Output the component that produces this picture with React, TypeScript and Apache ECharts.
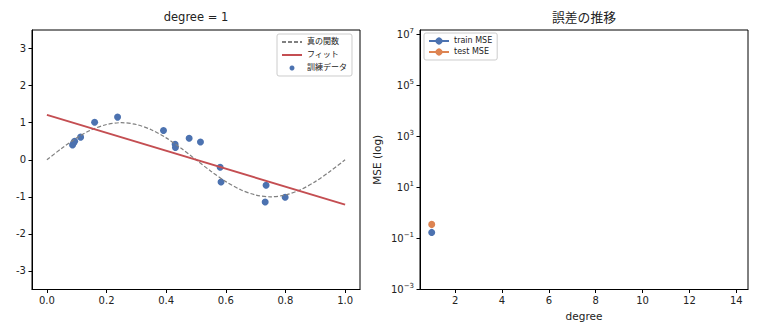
import React, { useEffect, useRef } from "react";
import * as echarts from "echarts";

const FONT = "'DejaVu Sans', 'Noto Sans CJK JP', sans-serif";

// Left panel data
const curveX = [0, 0.05, 0.1, 0.15, 0.2, 0.25, 0.3, 0.35, 0.4, 0.45, 0.5, 0.55, 0.6, 0.65, 0.7, 0.75, 0.8, 0.85, 0.9, 0.95, 1.0];
const curveY = [0, 0.31, 0.59, 0.81, 0.95, 1.0, 0.95, 0.81, 0.59, 0.31, 0, -0.31, -0.59, -0.81, -0.95, -1.0, -0.95, -0.81, -0.59, -0.31, 0];
const fitX = [0, 1];
const fitY = [1.21, -1.21];
const trainX = [0.086, 0.09, 0.093, 0.113, 0.16, 0.237, 0.391, 0.43, 0.431, 0.477, 0.515, 0.581, 0.584, 0.735, 0.732, 0.799];
const trainY = [0.4, 0.46, 0.5, 0.61, 1.01, 1.15, 0.79, 0.42, 0.33, 0.58, 0.48, -0.2, -0.6, -0.69, -1.14, -1.01];
const leftXTicks = [0, 0.2, 0.4, 0.6, 0.8, 1.0];
const leftYTicks = [-3, -2, -1, 0, 1, 2, 3];

// Right panel data
const degrees = [1];
const trainMSE = [0.172];
const testMSE = [0.354];
const rightXTicks = [2, 4, 6, 8, 10, 12, 14];

const titles = ["degree = 1", "誤差の推移"];

const BLUE = "#4C72B0";
const ORANGE = "#DD8452";
const RED = "#C44E52";
const GRAY = "#808080";
const TXT = "#222";

export default function App() {
  const ref = useRef<HTMLDivElement>(null);
  useEffect(() => {
    const chart = echarts.init(ref.current!, null, { renderer: "svg" });
    const axisCommon = {
      axisLine: { show: true, onZero: false, lineStyle: { color: "#000", width: 1 } },
      axisTick: { show: true, inside: false, length: 3.5, lineStyle: { color: "#000" } },
      splitLine: { show: false },
    };
    const legendCommon = {
      orient: "vertical",
      itemWidth: 20,
      itemHeight: 5,
      padding: [4, 5, 4, 4],
      backgroundColor: "#fff",
      borderColor: "#ccc",
      borderWidth: 1,
      borderRadius: 2,
      textStyle: { fontSize: 8, color: TXT, fontFamily: FONT },
    };
    const option: any = {
      animation: false,
      textStyle: { fontFamily: FONT },
      graphic: [
        {
          type: "text",
          x: 196,
          y: 17,
          style: { text: titles[0], fill: TXT, font: `11.5px ${FONT}`, align: "center", verticalAlign: "middle" },
        },
        {
          type: "text",
          x: 584,
          y: 17,
          style: { text: titles[1], fill: TXT, font: `12.8px ${FONT}`, align: "center", verticalAlign: "middle" },
        },
      ],
      grid: [
        { left: 32, top: 30, width: 328, height: 259.5, show: true, borderColor: "#000", borderWidth: 1, backgroundColor: "transparent" },
        { left: 420, top: 30, width: 328, height: 259.5, show: true, borderColor: "#000", borderWidth: 1, backgroundColor: "transparent" },
      ],
      legend: [
        {
          ...legendCommon,
          left: 277,
          top: 34,
          itemGap: 5,
          data: [
            { name: "真の関数", itemStyle: { opacity: 0 } },
            { name: "フィット", itemStyle: { opacity: 0 } },
            { name: "訓練データ", icon: "circle" },
          ],
        },
        {
          ...legendCommon,
          left: 424,
          top: 33,
          itemHeight: 9,
          itemGap: 3,
          data: [{ name: "train MSE" }, { name: "test MSE" }],
        },
      ],
      xAxis: [
        {
          type: "value",
          gridIndex: 0,
          min: -0.05,
          max: 1.05,
          ...axisCommon,
          axisTick: { ...axisCommon.axisTick, customValues: leftXTicks },
          axisLabel: { customValues: leftXTicks, color: TXT, fontSize: 10, margin: 6, formatter: (v: number) => v.toFixed(1) },
        },
        {
          type: "value",
          gridIndex: 1,
          min: 0.5,
          max: 14.5,
          name: "degree",
          nameLocation: "middle",
          nameGap: 21,
          nameTextStyle: { fontSize: 10.5, color: TXT },
          ...axisCommon,
          axisTick: { ...axisCommon.axisTick, customValues: rightXTicks },
          axisLabel: { customValues: rightXTicks, color: TXT, fontSize: 10, margin: 6 },
        },
      ],
      yAxis: [
        {
          type: "value",
          gridIndex: 0,
          min: -3.5,
          max: 3.5,
          ...axisCommon,
          axisTick: { ...axisCommon.axisTick, customValues: leftYTicks },
          axisLabel: { customValues: leftYTicks, color: TXT, fontSize: 10, margin: 6, formatter: (v: number) => String(v) },
        },
        {
          type: "log",
          logBase: 10,
          gridIndex: 1,
          min: 0.001,
          max: 1.45e7,
          interval: 2,
          name: "MSE (log)",
          nameLocation: "middle",
          nameGap: 38,
          nameRotate: 90,
          nameTextStyle: { fontSize: 10.5, color: TXT },
          ...axisCommon,
          axisLabel: {
            color: TXT,
            fontSize: 10,
            margin: 6,
            showMaxLabel: false,
            formatter: (v: number) => {
              const e = Math.round(Math.log10(v));
              return `{b|10}{s|${e < 0 ? "\u2212" + -e : e}}`;
            },
            rich: {
              b: { fontSize: 10, color: TXT, fontFamily: FONT, lineHeight: 14 },
              s: { fontSize: 7, color: TXT, fontFamily: FONT, verticalAlign: "top", lineHeight: 14 },
            },
          },
        },
      ],
      series: [
        {
          name: "真の関数",
          type: "line",
          xAxisIndex: 0,
          yAxisIndex: 0,
          data: curveX.map((x, i) => [x, curveY[i]]),
          smooth: 0.3,
          symbol: "none",
          lineStyle: { color: GRAY, width: 1.2, type: [4, 2] },
          itemStyle: { color: GRAY },
        },
        {
          name: "フィット",
          type: "line",
          xAxisIndex: 0,
          yAxisIndex: 0,
          data: fitX.map((x, i) => [x, fitY[i]]),
          symbol: "none",
          lineStyle: { color: RED, width: 2 },
          itemStyle: { color: RED },
        },
        {
          name: "訓練データ",
          type: "scatter",
          xAxisIndex: 0,
          yAxisIndex: 0,
          data: trainX.map((x, i) => [x, trainY[i]]),
          symbolSize: 7,
          itemStyle: { color: BLUE, opacity: 1 },
        },
        {
          name: "train MSE",
          type: "line",
          xAxisIndex: 1,
          yAxisIndex: 1,
          data: degrees.map((d, i) => [d, trainMSE[i]]),
          symbol: "circle",
          symbolSize: 7,
          lineStyle: { color: BLUE, width: 1.8 },
          itemStyle: { color: BLUE },
        },
        {
          name: "test MSE",
          type: "line",
          xAxisIndex: 1,
          yAxisIndex: 1,
          data: degrees.map((d, i) => [d, testMSE[i]]),
          symbol: "circle",
          symbolSize: 7,
          lineStyle: { color: ORANGE, width: 1.8 },
          itemStyle: { color: ORANGE },
        },
      ],
    };
    chart.setOption(option);
    return () => chart.dispose();
  }, []);
  return (
    <div
      ref={ref}
      style={{ position: "fixed", left: 0, top: 0, width: 760, height: 336, background: "#fff" }}
    />
  );
}
